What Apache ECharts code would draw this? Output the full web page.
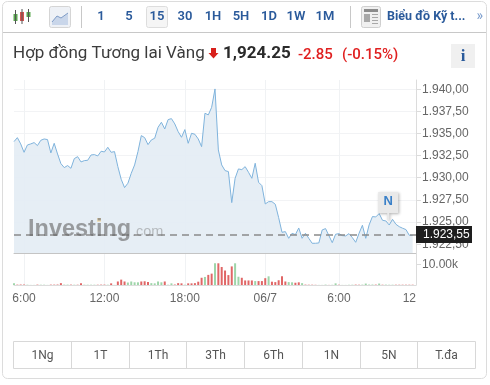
<!DOCTYPE html>
<html><head><meta charset="utf-8">
<style>html,body{margin:0;padding:0;background:#fff}#c{width:490px;height:385px}</style>
<script src="https://cdn.jsdelivr.net/npm/echarts@6/dist/echarts.min.js"></script>
</head><body><div id="c"></div>
<script>
const prices=[1934.08,1934.53,1933.82,1932.87,1933.70,1933.82,1933.97,1933.63,1934.23,1934.38,
1934.31,1932.80,1933.89,1932.68,1931.59,1931.14,1931.37,1931.06,1932.16,1932.38,
1931.78,1931.93,1931.97,1932.57,1932.61,1932.46,1932.99,1932.91,1933.44,1932.87,
1932.95,1931.25,1929.82,1928.88,1929.37,1930.50,1931.44,1932.95,1934.76,1934.53,
1933.74,1934.27,1934.46,1935.70,1936.27,1935.51,1936.57,1936.68,1936.08,1935.21,
1934.57,1935.44,1933.89,1935.02,1934.91,1934.38,1933.51,1937.29,1937.10,1937.96,
1940.04,1933.14,1931.44,1930.80,1930.69,1927.18,1929.93,1930.99,1930.91,1931.25,
1930.61,1929.93,1931.63,1929.48,1929.10,1927.03,1927.29,1927.29,1926.99,1925.48,
1923.82,1923.90,1923.14,1923.71,1923.56,1924.31,1923.14,1923.71,1923.14,1922.58,
1922.58,1922.62,1924.09,1924.24,1923.45,1922.65,1923.60,1923.67,1923.45,1923.41,
1923.67,1923.22,1922.69,1923.71,1924.62,1923.14,1924.65,1925.60,1925.56,1925.94,
1925.18,1925.11,1924.65,1925.29,1924.73,1924.46,1924.28,1924.13,1923.48,1923.48];
const volumes=[900,400,500,500,300,100,100,400,300,300,
100,400,400,500,900,400,400,400,300,300,
900,300,300,300,300,300,400,400,300,800,
100,1700,2600,1700,1200,1700,1300,1300,1700,1800,
1400,900,800,1700,1300,1700,300,800,500,900,
800,300,800,800,900,1600,3500,3900,4900,5500,
10500,10500,8700,7000,4800,9000,10500,4000,3500,2200,
2200,2200,1900,1900,1900,3300,4200,1600,1400,2300,
4200,1700,1400,1300,1100,1300,900,400,300,300,
200,100,100,400,100,200,800,300,100,100,
300,300,400,300,400,700,500,500,400,700,
300,400,300,300,300,300,300,300,300,300];
const volumeDirs=["g","r","r","r","g","g","g","r","g","g",
"g","r","r","r","r","g","g","r","g","r",
"r","g","g","g","g","r","r","r","g","r",
"g","r","r","r","g","g","g","g","r","r",
"r","g","g","g","g","r","g","g","r","r",
"r","g","r","r","r","r","r","g","r","r",
"g","r","r","r","r","r","g","g","r","r",
"r","r","g","r","r","r","g","r","r","r",
"r","r","g","g","r","r","g","r","r","r",
"r","g","g","g","r","g","g","r","g","g",
"g","g","r","r","g","g","g","g","r","g",
"r","g","g","g","r","r","r","r","r","r"];
const timeLabels={3:"6:00",27:"12:00",51:"18:00",75:"06/7",97:"6:00",118:"12"};
const gridIdx=[3,27,51,75,97];
const priceTicks=[1925,1927.5,1930,1932.5,1935,1937.5,1940];
const lowestPriceTick=1922.5;
const volumeTicks=[10000];
const lastPrice=1923.55;
const newsPoint=[112,1925.11];
const intervals=["1","5","15","30","1H","5H","1D","1W","1M"];
const rangeLabels=["1Ng","1T","1Th","3Th","6Th","1N","5N","T.đa"];

const blue="#2a5a9b",red="#e02020",UI="Roboto, 'Liberation Sans', sans-serif",AX="'Liberation Sans', Arial, sans-serif";
const categories=Array.from({length:121},(_,i)=>timeLabels[i]||String(i));
const fmtPrice=v=>{const s=v.toFixed(2).replace(".",",");return s.slice(0,1)+"."+s.slice(1)};

const g=[];
const T=(text,x,y,style,z)=>g.push({type:"text",x,y,z:z||50,style:Object.assign({text,fontFamily:UI,verticalAlign:"middle"},style)});
const R=(x,y,w,h,fill,stroke,r,z)=>g.push({type:"rect",z:z||40,shape:{x,y,width:w,height:h,r:r||0},style:{fill:fill||"none",stroke:stroke||null,lineWidth:1}});
const L=(x1,y1,x2,y2,c,w)=>g.push({type:"line",z:41,shape:{x1,y1,x2,y2},style:{stroke:c,lineWidth:w||1}});
g.push({type:"rect",z:1,shape:{x:2.5,y:1.5,width:484,height:377,r:5},style:{fill:"none",stroke:"#dcdcdc",lineWidth:1}});
L(3,32.5,486,32.5,"#c8c8c8");
[[15.5,10,24,14,21,"#5aa84f"],[22,9,24,12,21,"#d9534f"],[28.5,9,22,12,17,"#5aa84f"]].forEach(c=>{
  L(c[0],c[1],c[0],c[2],"#555");
  R(c[0]-2,c[3],4,c[4]-c[3],c[5],null);
});
R(49.5,6.5,21,21,"#eef1f6","#d5d5d5",2);
g.push({type:"polygon",z:41,shape:{points:[[52,22],[57,16],[61,18],[68,13],[68,25],[52,25]]},style:{fill:"#c9d6ea"}});
g.push({type:"polyline",z:42,shape:{points:[[52,22],[57,16],[61,18],[68,13]]},style:{stroke:"#7f9cc6",fill:"none",lineWidth:1}});
L(81.5,6,81.5,28,"#c8c8c8");
L(350.5,6,350.5,28,"#c8c8c8");
R(146.5,6.5,21,21,"#f5f5f5","#dddddd",2);
const ix=[101,129,157,185,213,241,269,296,325];
intervals.forEach((s,i)=>T(s,ix[i],17,{fill:blue,fontSize:13,fontWeight:600,align:"center"}));
R(361.5,6.5,19,21,"#f0f0f0","#cfcfcf",2);
R(364,9,14,3,"#8c8c8c");R(364,14,6,8,"#a8a8a8");
[14,17,20,23].forEach(y=>L(372,y+.5,378,y+.5,"#a8a8a8"));
T("Biểu đồ Kỹ t...",387,17,{fill:blue,fontSize:12.5,fontWeight:700});
T("»",476.5,16.5,{fill:"#7a9ccc",fontSize:14});
T("Hợp đồng Tương lai Vàng",13,54,{fill:"#3c3c3c",fontSize:17});
g.push({type:"polygon",z:41,shape:{points:[[211,48],[216,48],[216,53],[218.5,53],[213.5,58.5],[208.5,53],[211,53]]},style:{fill:"#d8201c"}});
T("1,924.25",223,54,{fill:"#2a2a2a",fontSize:17,fontWeight:700});
T("-2.85",298,55,{fill:red,fontSize:15,fontWeight:500});
T("(-0.15%)",342,55,{fill:red,fontSize:15,fontWeight:500});
R(451,44,24,24,"#f0f0f0");
T("i",463,57,{fill:blue,fontSize:17,fontWeight:700,fontFamily:"'Liberation Serif', serif",align:"center"});
const cols=[13.5,71.5,129.5,186.5,244.5,302.5,360.5,417.5,475.5];
R(13.5,341.5,462,27,"#fff","#d8d8d8");
cols.slice(1,-1).forEach(x=>L(x,341.5,x,368.5,"#d8d8d8"));
rangeLabels.forEach((s,i)=>T(s,(cols[i]+cols[i+1])/2,355.5,{fill:"#555",fontSize:12,align:"center"}));
T("Investing",28,229.5,{fill:"rgba(95,95,95,0.58)",fontSize:23.5,fontWeight:700,fontFamily:AX});
T(".com",132,232,{fill:"rgba(120,120,120,0.45)",fontSize:14.5,fontFamily:AX});
R(97,218,4,4,"#f1e3c2");
// lowest tick label, then the last-price tag painted over its upper part
T(fmtPrice(lowestPriceTick),422,245,{fill:"#666",fontSize:12,fontFamily:AX},60);
L(416,244.5,421,244.5,"#dcdcdc");
R(416,226,56,17,"#1e1e1e",null,0,61);
T(fmtPrice(lastPrice),423,235,{fill:"#fff",fontSize:12,fontFamily:AX},62);

const chart=echarts.init(document.getElementById("c"),null,{renderer:"canvas"});
chart.setOption({
  animation:false,
  graphic:g,
  grid:[{left:14,top:80,width:402,height:173},{left:14,top:254,width:402,height:31}],
  xAxis:[
    {type:"category",gridIndex:0,data:categories,boundaryGap:false,
     axisLine:{show:true,lineStyle:{color:"#c4c4c4"}},axisTick:{show:false},axisLabel:{show:false},
     splitLine:{show:true,interval:(i)=>gridIdx.includes(i),lineStyle:{color:"#f0f2f4"}}},
    {type:"category",gridIndex:1,data:categories,boundaryGap:false,
     axisLine:{show:true,lineStyle:{color:"#dcdcdc"}},axisTick:{show:false},
     axisLabel:{interval:(i)=>i in timeLabels,formatter:(v)=>v,color:"#666",fontSize:12,fontFamily:AX,margin:8,hideOverlap:false},
     splitLine:{show:true,interval:(i)=>gridIdx.includes(i),lineStyle:{color:"#f0f2f4"}}}
  ],
  yAxis:[
    {type:"value",gridIndex:0,position:"right",min:1921.48,max:1941.05,
     axisLine:{show:true,lineStyle:{color:"#dcdcdc"}},
     axisTick:{show:true,length:5,customValues:priceTicks,lineStyle:{color:"#dcdcdc"}},
     axisLabel:{customValues:priceTicks,formatter:fmtPrice,color:"#666",fontSize:12,fontFamily:AX,margin:6,hideOverlap:false},
     splitLine:{show:true,lineStyle:{color:"#f2f3f5"}}},
    {type:"value",gridIndex:1,position:"right",min:0,max:15000,
     axisLine:{show:true,lineStyle:{color:"#dcdcdc"}},
     axisTick:{show:true,length:5,customValues:volumeTicks,lineStyle:{color:"#dcdcdc"}},
     axisLabel:{customValues:volumeTicks,formatter:v=>(v/1000).toFixed(2)+"k",color:"#666",fontSize:12,fontFamily:AX,margin:6},
     splitLine:{show:false}}
  ],
  series:[
    {type:"line",xAxisIndex:0,yAxisIndex:0,data:prices,symbol:"none",smooth:false,z:3,
     lineStyle:{color:"#7fb3dc",width:1},areaStyle:{color:"#e4edf4",opacity:.92},
     markLine:{silent:true,symbol:"none",animation:false,z:20,
       lineStyle:{color:"#8a8a8a",type:[7,5],width:1.5},
       label:{show:false},
       data:[{yAxis:lastPrice}]},
     markPoint:{silent:true,animation:false,z:21,
       symbol:"path://M0 0H20V21H11V28H9V21H0Z",symbolSize:[20,28],symbolKeepAspect:false,symbolOffset:[-1,-15],
       itemStyle:{color:"#e9e9e9",shadowColor:"rgba(0,0,0,0.3)",shadowBlur:3,shadowOffsetX:1,shadowOffsetY:1},
       label:{show:true,formatter:"N",color:"#3a80c8",fontSize:13,fontWeight:700,fontFamily:AX,position:"inside",offset:[0,-4]},
       data:[{coord:newsPoint}]}
    },
    {type:"bar",xAxisIndex:1,yAxisIndex:1,barWidth:2,z:3,
     data:volumes.map((v,i)=>({value:v,itemStyle:{color:volumeDirs[i]==="g"?"#9ed5a9":"#e06666",opacity:v<600?0.45:1}}))}
  ]
});
</script></body></html>
